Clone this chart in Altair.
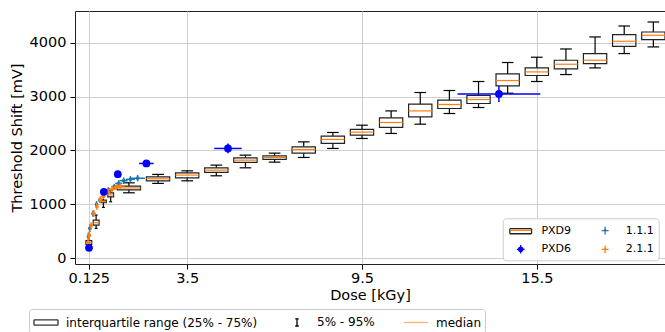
import altair as alt
import pandas as pd

# ---- PXD9: threshold-shift distribution per dose step (5%, 25%, 50%, 75%, 95%) ----
pxd9_dose = [0.125, 0.375, 0.625, 0.875, 1.5, 2.5, 3.5, 4.5, 5.5, 6.5, 7.5, 8.5,
             9.5, 10.5, 11.5, 12.5, 13.5, 14.5, 15.5, 16.5, 17.5, 18.5, 19.5]
pxd9_p05 = [170, 555, 944, 1048, 1215, 1389, 1437, 1530, 1678, 1783, 1870, 2037,
            2222, 2315, 2487, 2685, 2796, 3061, 3278, 3407, 3530, 3796, 3919]
pxd9_q1 = [260, 617, 1030, 1140, 1270, 1437, 1493, 1593, 1778, 1833, 1950, 2130,
           2283, 2426, 2622, 2778, 2870, 3196, 3389, 3511, 3611, 3931, 4056]
pxd9_med = [290, 660, 1055, 1175, 1305, 1474, 1543, 1635, 1820, 1870, 2018, 2204,
            2339, 2519, 2733, 2852, 2944, 3296, 3456, 3598, 3672, 4024, 4135]
pxd9_q3 = [330, 709, 1080, 1215, 1340, 1511, 1585, 1678, 1863, 1900, 2067, 2265,
           2389, 2604, 2857, 2931, 3019, 3419, 3530, 3672, 3796, 4148, 4196]
pxd9_p95 = [430, 802, 1140, 1265, 1400, 1556, 1622, 1728, 1913, 1950, 2159, 2333,
            2468, 2733, 3074, 3111, 3278, 3630, 3728, 3881, 4104, 4307, 4381]

# ---- PXD6: mean shift with dose and shift uncertainty ----
pxd6_dose = [0.13, 0.64, 1.12, 2.1, 4.9, 14.2]
pxd6_shift = [196, 1233, 1561, 1759, 2037, 3048]
pxd6_dose_err = [0.02, 0.03, 0.05, 0.25, 0.47, 1.42]
pxd6_shift_err = [20, 40, 50, 60, 90, 150]

# ---- module 1.1.1 ----
m111_dose = [0.11, 0.16, 0.27, 0.39, 0.5, 0.65, 0.8, 1.0, 1.15, 1.32, 1.55, 1.8]
m111_shift = [400, 560, 830, 1000, 1080, 1200, 1270, 1330, 1390, 1440, 1465, 1485]
m111_dose_err = [0.02, 0.02, 0.03, 0.04, 0.05, 0.06, 0.08, 0.1, 0.12, 0.14, 0.16, 0.25]
m111_shift_err = [80, 70, 60, 60, 50, 50, 50, 50, 60, 60, 60, 60]

# ---- module 2.1.1 ----
m211_dose = [0.1, 0.14, 0.2, 0.3, 0.4, 0.52, 0.62, 0.78, 0.92, 1.07, 1.2]
m211_shift = [280, 430, 600, 830, 960, 1090, 1150, 1230, 1280, 1320, 1340]
m211_dose_err = [0.02, 0.02, 0.03, 0.04, 0.05, 0.06, 0.08, 0.1, 0.12, 0.15, 0.15]
m211_shift_err = [120, 80, 70, 60, 60, 60, 50, 50, 50, 50, 50]

x_ticks = [0.125, 3.5, 9.5, 15.5]
y_ticks = [0, 1000, 2000, 3000, 4000]

FONT = "DejaVu Sans"
TAB_BLUE = "#1f77b4"
TAB_ORANGE = "#ff7f0e"
PURE_BLUE = "#0000ff"

x_scale = alt.Scale(domain=[-0.35, 19.9], nice=False, zero=False)
y_scale = alt.Scale(domain=[-105, 4585], nice=False, zero=False)
x_axis = alt.Axis(values=x_ticks, format=".3~f", title="Dose [kGy]", grid=True,
                  labelFlush=False, titlePadding=4, labelPadding=2)
y_axis = alt.Axis(values=y_ticks, format="d", title="Threshold Shift [mV]", grid=True,
                  titlePadding=5, labelPadding=4)


def X(field):
    return alt.X(field, type="quantitative", scale=x_scale, axis=x_axis)


def Y(field):
    return alt.Y(field, type="quantitative", scale=y_scale, axis=y_axis)


# ---- box plot geometry (narrow boxes for the fine low-dose steps) ----
box = pd.DataFrame({"dose": pxd9_dose, "p05": pxd9_p05, "q1": pxd9_q1,
                    "med": pxd9_med, "q3": pxd9_q3, "p95": pxd9_p95})
box["half"] = [0.1 if d < 1 else 0.4 for d in box["dose"]]
box["left"] = box["dose"] - box["half"]
box["right"] = box["dose"] + box["half"]
box["cap_l"] = box["dose"] - box["half"] / 2
box["cap_r"] = box["dose"] + box["half"] / 2

bbase = alt.Chart(box)
whisk_lo = bbase.mark_rule(color="black", strokeWidth=1.2).encode(x=X("dose"), y=Y("p05"), y2="q1")
whisk_hi = bbase.mark_rule(color="black", strokeWidth=1.2).encode(x=X("dose"), y=Y("q3"), y2="p95")
cap_lo = bbase.mark_rule(color="black", strokeWidth=1.2).encode(x=X("cap_l"), x2="cap_r", y=Y("p05"))
cap_hi = bbase.mark_rule(color="black", strokeWidth=1.2).encode(x=X("cap_l"), x2="cap_r", y=Y("p95"))
boxes = bbase.mark_rect(fill="white", fillOpacity=0, stroke="#222222", strokeWidth=1.2).encode(
    x=X("left"), x2="right", y=Y("q1"), y2="q3")
medians = bbase.mark_rule(color=TAB_ORANGE, strokeWidth=1.2).encode(x=X("left"), x2="right", y=Y("med"))


def error_series(dose, shift, dose_err, shift_err, color, dot_size):
    df = pd.DataFrame({"dose": dose, "shift": shift, "dxe": dose_err, "dye": shift_err})
    df["x_lo"] = df["dose"] - df["dxe"]
    df["x_hi"] = df["dose"] + df["dxe"]
    df["y_lo"] = df["shift"] - df["dye"]
    df["y_hi"] = df["shift"] + df["dye"]
    base = alt.Chart(df)
    horiz = base.mark_rule(color=color, strokeWidth=1.5).encode(x=X("x_lo"), x2="x_hi", y=Y("shift"))
    vert = base.mark_rule(color=color, strokeWidth=1.5).encode(x=X("dose"), y=Y("y_lo"), y2="y_hi")
    dots = base.mark_circle(color=color, size=dot_size, opacity=1).encode(x=X("dose"), y=Y("shift"))
    return [horiz, vert, dots]


layers = [whisk_lo, whisk_hi, cap_lo, cap_hi, boxes, medians]
layers += error_series(m111_dose, m111_shift, m111_dose_err, m111_shift_err, TAB_BLUE, 14)
layers += error_series(m211_dose, m211_shift, m211_dose_err, m211_shift_err, TAB_ORANGE, 14)
layers += error_series(pxd6_dose, pxd6_shift, pxd6_dose_err, pxd6_shift_err, PURE_BLUE, 60)

# ---- legend inside the plot (drawn only through legend symbols) ----
# Vega fills the two columns top-to-bottom, so this order gives
# PXD9 / PXD6 in the first column and 1.1.1 / 2.1.1 in the second.
series_names = ["PXD9", "PXD6", "1.1.1", "2.1.1"]
series_colors = ["#222222", PURE_BLUE, TAB_BLUE, TAB_ORANGE]
series_fills = ["transparent", PURE_BLUE, TAB_BLUE, TAB_ORANGE]
box_path = "M-1.55,-0.36H1.55M1.55,-0.36V0.36M1.55,0.36H-1.55M-1.55,0.36V-0.36"
dot_cross_path = ("M-0.55,0H0.55M0,-0.6V0.6"
                  "M-0.32,0A0.32,0.32 0 1,0 0.32,0A0.32,0.32 0 1,0 -0.32,0Z")
small_dot_cross = ("M-0.5,0H0.5M0,-0.55V0.55"
                   "M-0.11,0A0.11,0.11 0 1,0 0.11,0A0.11,0.11 0 1,0 -0.11,0Z")
series_shapes = [box_path, dot_cross_path, small_dot_cross, small_dot_cross]

inner_legend = alt.Legend(
    title=None, orient="none", legendX=427.7, legendY=207.3, columns=2, direction="vertical",
    symbolSize=196, symbolStrokeWidth=1.3, symbolOffset=6, labelFont=FONT, labelFontSize=11,
    labelColor="black", labelOffset=12.7, columnPadding=19.4, rowPadding=4, padding=4,
    fillColor="rgba(255,255,255,0.85)", strokeColor="#cccccc", cornerRadius=3)

legend_series = alt.Chart(alt.Data(values=[])).mark_point(filled=True, opacity=1).encode(
    fill=alt.Fill("series:N", scale=alt.Scale(domain=series_names, range=series_fills),
                  legend=inner_legend),
    stroke=alt.Stroke("series:N", scale=alt.Scale(domain=series_names, range=series_colors),
                      legend=inner_legend),
    shape=alt.Shape("series:N", scale=alt.Scale(domain=series_names, range=series_shapes),
                    legend=inner_legend),
)

# orange median stroke laid over the PXD9 key symbol
median_key = alt.Legend(
    title=None, orient="none", legendX=437.7, legendY=211.3, labelExpr="''",
    symbolSize=196, symbolStrokeWidth=1.3, padding=0, labelOffset=0,
    fillColor="transparent", strokeColor="transparent")

legend_median_key = alt.Chart(alt.Data(values=[])).mark_point(filled=False, opacity=1).encode(
    color=alt.Color("key:N", scale=alt.Scale(domain=["PXD9 median"], range=[TAB_ORANGE]),
                    legend=median_key),
    shape=alt.Shape("key:N", scale=alt.Scale(domain=["PXD9 median"], range=["M-1.5,0H1.5"]),
                    legend=median_key),
)

# ---- legend explaining the box plot elements (below the axis) ----
stat_names = ["interquartile range (25% - 75%)", "5% - 95%", "median"]
stat_colors = ["#333333", "black", "#ffb36b"]
stat_fills = ["transparent", "transparent", "transparent"]
rect_path = "M-1.5,-0.33H1.5M1.5,-0.33V0.33M1.5,0.33H-1.5M-1.5,0.33V-0.33"
ibeam_path = "M-0.22,-0.45H0.22M0,-0.45V0.45M-0.22,0.45H0.22"
line_path = "M-1.5,0H1.5"
stat_shapes = [rect_path, ibeam_path, line_path]

stat_legend = alt.Legend(
    title=None, orient="none", legendX=-46, legendY=298, direction="horizontal",
    symbolSize=256, symbolStrokeWidth=1.3, symbolOffset=4, labelFont=FONT, labelFontSize=12,
    labelColor="black", labelOffset=11, labelLimit=400, columnPadding=26, padding=4,
    fillColor="white", strokeColor="#cccccc", cornerRadius=3)

legend_stats = alt.Chart(alt.Data(values=[])).mark_point(filled=True, opacity=1).encode(
    fill=alt.Fill("stat:N", scale=alt.Scale(domain=stat_names, range=stat_fills),
                  legend=stat_legend),
    stroke=alt.Stroke("stat:N", scale=alt.Scale(domain=stat_names, range=stat_colors),
                      legend=stat_legend),
    shape=alt.Shape("stat:N", scale=alt.Scale(domain=stat_names, range=stat_shapes),
                    legend=stat_legend),
)

layers += [legend_series, legend_median_key, legend_stats]

chart = (
    alt.layer(*layers)
    .resolve_scale(fill="independent", stroke="independent", shape="independent",
                   color="independent")
    .resolve_legend(fill="independent", stroke="independent", shape="independent",
                    color="independent")
    .properties(width=590, height=253,
                autosize=alt.AutoSizeParams(type="none"),
                padding={"left": 75, "top": 11, "right": 0, "bottom": 68})
    .configure_view(stroke="#222222", strokeWidth=1)
    .configure_axis(labelFont=FONT, titleFont=FONT, labelFontSize=14.5, titleFontSize=14.5,
                    labelColor="black", titleColor="black", titleFontWeight="normal",
                    tickColor="black", tickSize=5, tickWidth=1, domain=False,
                    gridColor="#cfcfcf", gridWidth=1)
)

chart.save("out.html", embed_options={"renderer": "svg", "actions": False})
